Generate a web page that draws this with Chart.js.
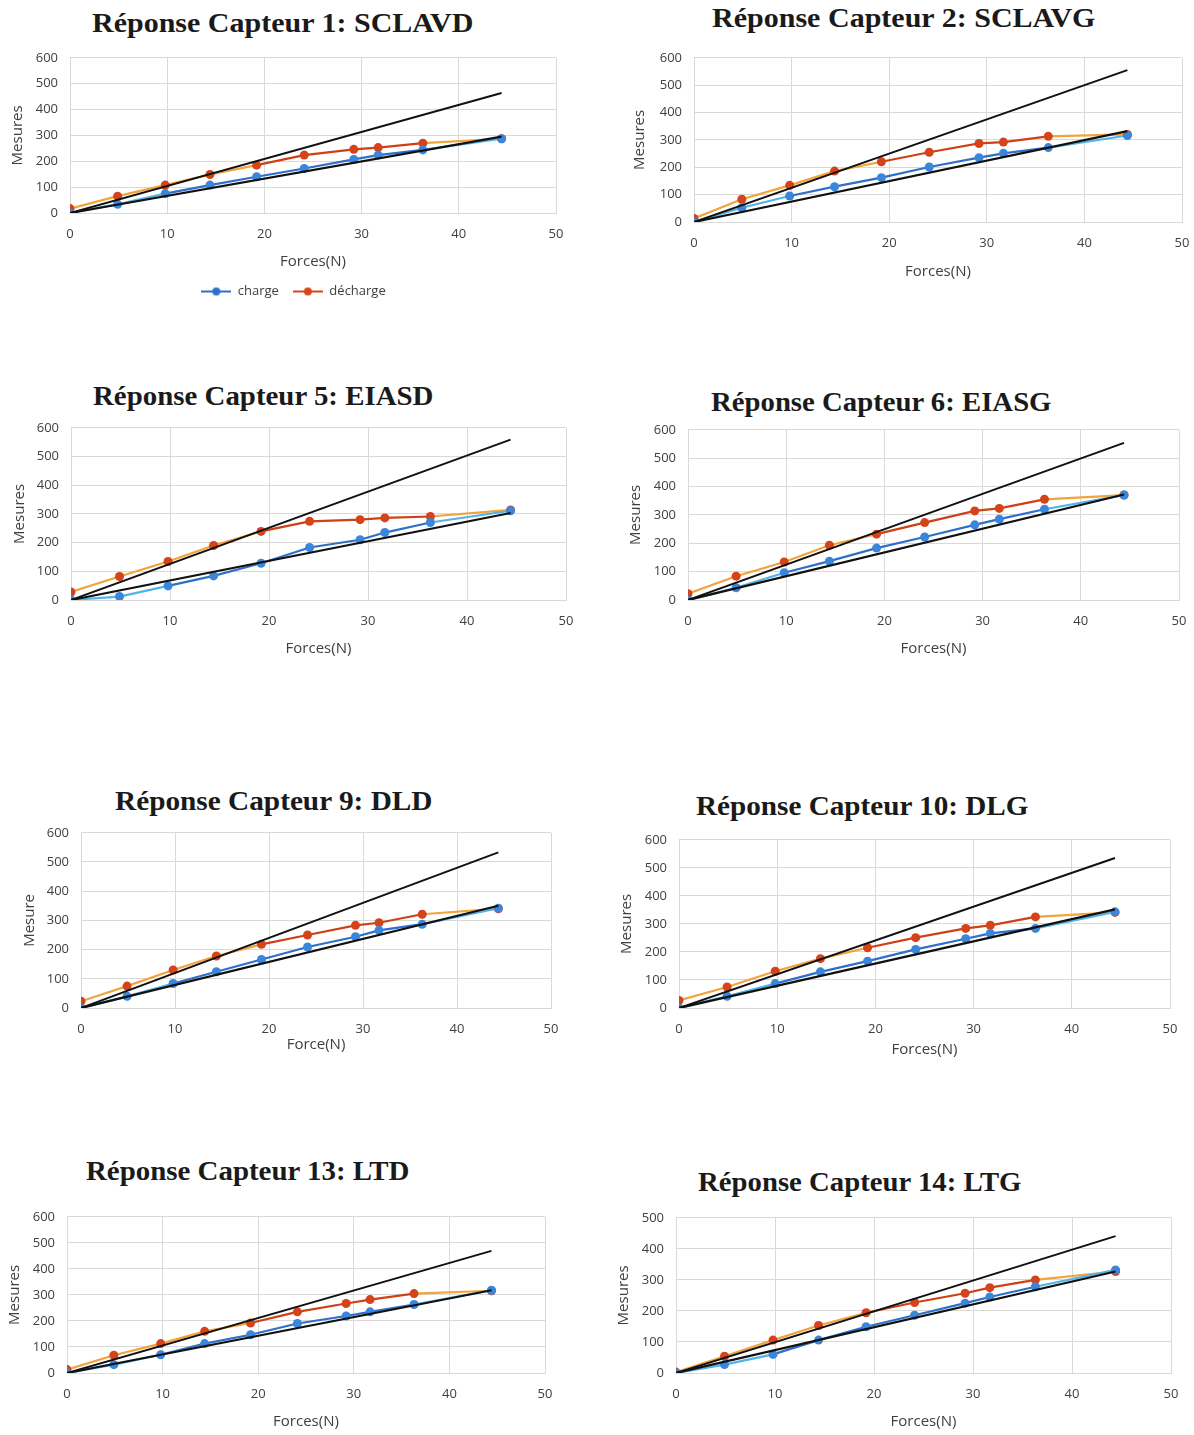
<!DOCTYPE html>
<html><head><meta charset="utf-8">
<script src="https://cdn.jsdelivr.net/npm/chart.js@4"></script>
<style>
body{margin:0;background:#fff;width:1194px;height:1435px;position:relative;overflow:hidden;}
.t{position:absolute;font-family:"Liberation Serif";font-weight:bold;font-size:28px;line-height:32px;white-space:nowrap;color:#1a1a1a;transform-origin:0 0;}
canvas{position:absolute;}
</style></head><body>
<script>
// ---- data ----
const forces = [0, 4.9, 9.8, 14.4, 19.2, 24.1, 29.2, 31.7, 36.3, 44.4];
const panelTitles = ["Réponse Capteur 1: SCLAVD","Réponse Capteur 2: SCLAVG","Réponse Capteur 5: EIASD","Réponse Capteur 6: EIASG","Réponse Capteur 9: DLD","Réponse Capteur 10: DLG","Réponse Capteur 13: LTD","Réponse Capteur 14: LTG"];
const xTitles = ["Forces(N)","Forces(N)","Forces(N)","Forces(N)","Force(N)","Forces(N)","Forces(N)","Forces(N)"];
const yTitles = ["Mesures","Mesures","Mesures","Mesures","Mesure","Mesures","Mesures","Mesures"];
const yMax = [600,600,600,600,600,600,600,500];
const legendLabels = ["charge","décharge"];

const charge1 = [0, 34, 75, 108, 140, 172, 207, 224, 244, 287];
const decharge1 = [17, 65, 108, 149, 185, 224, 246, 253, 270, 287];
const charge2 = [0, 52, 95, 129, 162, 201, 235, 251, 272, 316];
const decharge2 = [13, 83, 134, 186, 220, 255, 287, 292, 313, 320];
const charge5 = [0, 12, 49, 84, 128, 183, 210, 235, 270, 311];
const decharge5 = [28, 82, 134, 190, 239, 274, 280, 286, 291, 314];
const charge6 = [0, 43, 96, 137, 183, 222, 265, 285, 320, 370];
const decharge6 = [22, 84, 134, 193, 232, 273, 314, 323, 355, 370];
const charge9 = [0, 40, 84, 124, 166, 209, 244, 266, 287, 342];
const decharge9 = [23, 75, 130, 178, 218, 250, 283, 292, 321, 340];
const charge10 = [0, 42, 87, 129, 167, 209, 247, 266, 284, 343];
const decharge10 = [27, 75, 131, 176, 215, 251, 284, 295, 325, 341];
const charge13 = [0, 32, 70, 113, 147, 190, 219, 235, 263, 318];
const decharge13 = [13, 68, 113, 160, 192, 235, 267, 282, 305, 316];
const charge14 = [0, 27, 60, 106, 149, 186, 225, 245, 278, 332];
const decharge14 = [3, 54, 106, 153, 194, 227, 257, 275, 300, 327];
// reference straight lines: value reached at the last force
const upperEnd = [464, 555, 559, 554, 533, 535, 469, 441];
const lowerEnd = [295, 332, 303, 372, 350, 352, 318, 327];

const chargeSets = [charge1, charge2, charge5, charge6, charge9, charge10, charge13, charge14];
const dechargeSets = [decharge1, decharge2, decharge5, decharge6, decharge9, decharge10, decharge13, decharge14];

// ---- layout (pixel geometry of each panel) ----
const layoutP = [
 {L:70, R:556, T:58, B:213, yt:18, xt:262, tx:92, tw:382, tb:32, legend:true, pl:22},
 {L:694, R:1182, T:58, B:222, yt:640, xt:272, tx:712, tw:384, tb:27},
 {L:71, R:566, T:428, B:600, yt:20, xt:649, tx:93, tw:341, tb:405},
 {L:688, R:1179, T:430, B:600, yt:636, xt:649, tx:711, tw:341, tb:411},
 {L:81, R:551, T:833, B:1008, yt:30, xt:1045, tx:115, tw:318, tb:810},
 {L:679, R:1170, T:840, B:1008, yt:627, xt:1050, tx:696, tw:333, tb:815},
 {L:67, R:545, T:1217, B:1373, yt:15, xt:1422, tx:86, tw:324, tb:1180},
 {L:676, R:1171, T:1218, B:1373, yt:624, xt:1422, tx:698, tw:324, tb:1191}
];

const BLUE='#2F6FCB', LBLUE='#52B3EA', RED='#CF4115', ORANGE='#F2A33A', GRID='#D9D9D9', TXT='#404040';
const FONT = '"Open Sans", "Noto Sans", sans-serif';

function legendIcon(color){
  const c=document.createElement('canvas'); c.width=30; c.height=10;
  const g=c.getContext('2d'); g.strokeStyle=color; g.lineWidth=2;
  g.beginPath(); g.moveTo(0,5); g.lineTo(30,5); g.stroke();
  g.fillStyle=color; g.beginPath(); g.arc(15,5,4,0,Math.PI*2); g.fill();
  return c;
}
const icons = [legendIcon('#2F6FCB'), legendIcon('#D9441A')];

const meas = document.createElement('canvas').getContext('2d');
meas.font = 'bold 28px "Liberation Serif"';

layoutP.forEach((p,i)=>{
  // title
  const d=document.createElement('div'); d.className='t'; d.textContent=panelTitles[i];
  const w = meas.measureText(panelTitles[i]).width;
  d.style.left=p.tx+'px'; d.style.top=(p.tb-25)+'px';
  d.style.transform='scaleX('+(p.tw/w).toFixed(4)+')';
  document.body.appendChild(d);

  const padL = p.pl||0;
  const yW = p.L - p.yt + 9 - padL;
  const xH = p.xt - p.B + 9;
  const padTop=12, extraTop=8, padRight=24, legendH = p.legend?37:0;
  const cv=document.createElement('canvas');
  const W = padL + yW + (p.R-p.L) + padRight, H = padTop + extraTop + (p.B-p.T) + xH + legendH;
  cv.width=W; cv.height=H; cv.style.left=(p.L-yW-padL)+'px'; cv.style.top=(p.T-padTop-extraTop)+'px';
  cv.style.width=W+'px'; cv.style.height=H+'px';
  document.body.appendChild(cv);

  const ch = chargeSets[i], de = dechargeSets[i];
  const pts = arr => forces.map((x,k)=>({x, y:arr[k]}));
  new Chart(cv,{
    type:'scatter',
    data:{datasets:[
      {label:'ref haute', data:[{x:forces[0],y:0},{x:forces[forces.length-1],y:upperEnd[i]}], showLine:true, borderColor:'#111', borderWidth:2, pointRadius:0, order:0},
      {label:'ref basse', data:[{x:forces[0],y:0},{x:forces[forces.length-1],y:lowerEnd[i]}], showLine:true, borderColor:'#111', borderWidth:2.2, pointRadius:0, order:0},
      {label:legendLabels[0], data:pts(ch), showLine:true, borderColor:BLUE, borderWidth:2.2, pointRadius:4.5, pointBackgroundColor:'#3A86DA', pointBorderWidth:0, order:1,
        segment:{borderColor: c => (c.p0.parsed.x<5 || c.p0.parsed.x>=36) ? LBLUE : BLUE}},
      {label:legendLabels[1], data:pts(de), showLine:true, borderColor:RED, borderWidth:2.2, pointRadius:4.5, pointBackgroundColor:'#D4431A', pointBorderWidth:0, order:1,
        segment:{borderColor: c => (c.p1.parsed.x<=19.3 || c.p0.parsed.x>=36) ? ORANGE : RED}}
    ]},
    options:{
      responsive:false, animation:false, devicePixelRatio:1,
      layout:{padding:{top:padTop,right:padRight,left:padL,bottom:0}},
      plugins:{
        tooltip:{enabled:false},
        legend:{display:!!p.legend, position:'bottom',
          labels:{usePointStyle:true, pointStyleWidth:30, padding:14, color:TXT, font:{family:FONT,size:13},
            filter: it => legendLabels.includes(it.text),
            generateLabels: chart => Chart.defaults.plugins.legend.labels.generateLabels(chart).map(it=>{
              const idx = legendLabels.indexOf(it.text); if(idx>=0) it.pointStyle = icons[idx]; return it; })
          }}
      },
      scales:{
        x:{type:'linear', min:0, max:50, ticks:{stepSize:10, padding:13, color:TXT, font:{family:FONT,size:13}},
           grid:{color:GRID, drawTicks:false}, border:{color:GRID},
           title:{display:true, text:xTitles[i], color:TXT, padding:0, font:{family:FONT,size:15}},
           afterFit: s => { s.height = xH; }},
        y:{min:0, max:yMax[i], ticks:{stepSize:100, padding:12, color:TXT, font:{family:FONT,size:13}},
           grid:{color:GRID, drawTicks:false}, border:{color:GRID},
           title:{display:true, text:yTitles[i], color:TXT, padding:{top:-padL, bottom:0}, font:{family:FONT,size:15}},
           afterFit: s => { s.width = yW; }}
      }
    }
  });
});
</script>
</body></html>
